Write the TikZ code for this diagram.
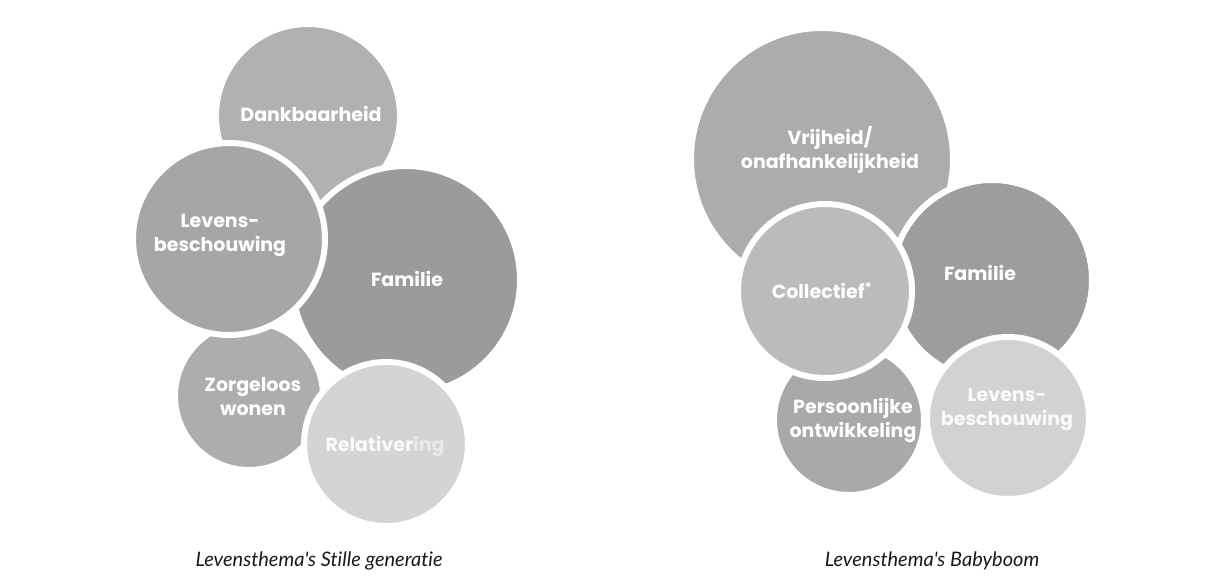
\documentclass[tikz,border=0pt]{standalone}
\usepackage{fontspec}
\newfontfamily\circfont{Poppins}
\newfontfamily\capfont{Lato}[Ligatures=NoCommon]
\begin{document}
\begin{tikzpicture}[x=1pt,y=-1pt,
  bubble/.style={circle, draw=white, line width=6pt, inner sep=0pt,
    minimum size=#1},
  lbl/.style={text=white, font=\circfont\bfseries\fontsize{19}{24}\selectfont, align=center},
  captext/.style={text=black!90, font=\capfont\itshape\fontsize{20}{24}\selectfont}]
\useasboundingbox (0,0) rectangle (1212,580);
\definecolor{cDank}{HTML}{B1B1B1}
\definecolor{cLevL}{HTML}{A6A6A6}
\definecolor{cFamL}{HTML}{9B9B9B}
\definecolor{cZorg}{HTML}{ADADAD}
\definecolor{cRel}{HTML}{D4D4D4}
\definecolor{cVrij}{HTML}{ACACAC}
\definecolor{cFamR}{HTML}{9D9D9D}
\definecolor{cColl}{HTML}{BBBBBB}
\definecolor{cPers}{HTML}{A9A9A9}
\definecolor{cLevR}{HTML}{D2D2D2}
\definecolor{cLight}{HTML}{FAFAFA}
\definecolor{cLighter}{HTML}{E9E9E9}
% left cluster
\node[bubble=184pt, fill=cDank] (dank) at (308,116) {};
\node[bubble=148pt, fill=cZorg] (zorg) at (249,396) {};
\node[bubble=228pt, fill=cFamL] (famL) at (406,280) {};
\node[bubble=192pt, fill=cLevL] (levL) at (229,239) {};
\node[bubble=164pt, fill=cRel] (rel) at (386,444) {};
\node[lbl] (tDank) at (311,114) {Dankbaarheid};
\node[lbl] (tLevL) at (220,235) {Levens-\\beschouwing};
\node[lbl] (tFamL) at (407,279) {Familie};
\node[lbl] (tZorg) at (253,397) {Zorgeloos\\wonen};
\node[lbl, text=cLight] (tRel) at (385,446) {Relativer{\color{cLighter}ing}};
% right cluster
\node[bubble=262pt, fill=cVrij] (vrij) at (822,159) {};
\node[bubble=200pt, fill=cFamR] (famR) at (992,280) {};
\node[bubble=150pt, fill=cPers] (pers) at (849,420) {};
\node[bubble=174pt, fill=cColl] (coll) at (825,291) {};
\node[bubble=162pt, fill=cLevR] (levR) at (1008,418) {};
\node[lbl] (tVrij) at (830,150) {Vrijheid/\\onafhankelijkheid};
\node[lbl] (tFamR) at (980,273) {Familie};
\node[lbl] (tColl) at (822,291) {Collectief\textsuperscript{*}};
\node[lbl] (tPers) at (853,420) {Persoonlijke\\ontwikkeling};
\node[lbl, text=cLight] (tLevR) at (1007,409) {Levens-\\beschouwing};
% captions
\node[captext] (capL) at (319,561) {Levensthema's Stille generatie};
\node[captext] (capR) at (932,561) {Levensthema's Babyboom};
\end{tikzpicture}
\end{document}
